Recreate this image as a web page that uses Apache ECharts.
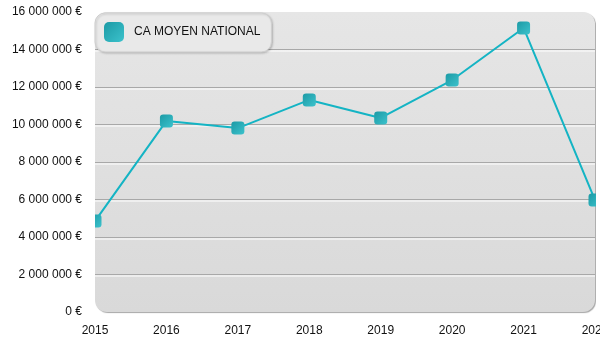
<!DOCTYPE html>
<html>
<head>
<meta charset="utf-8">
<script src="https://cdn.jsdelivr.net/npm/echarts@6/dist/echarts.min.js"></script>
<style>html,body{margin:0;padding:0;background:#fff;}#c{width:600px;height:350px;}</style>
</head>
<body>
<div id="c"></div>
<script>
var categories = ['2015','2016','2017','2018','2019','2020','2021','2022'];
var caMoyen = [4850000, 10190000, 9810000, 11310000, 10350000, 12370000, 15150000, 5970000];
var seriesName = 'CA MOYEN NATIONAL';

var chart = echarts.init(document.getElementById('c'), null, {renderer: 'canvas'});
var markerGrad = new echarts.graphic.LinearGradient(0, 0, 1, 1, [
  {offset: 0, color: '#1c9aa5'},
  {offset: 1, color: '#3cc2cc'}
]);
var G = '#a8a8a8', T = 'rgba(0,0,0,0)';
chart.setOption({
  animation: false,
  backgroundColor: '#ffffff',
  textStyle: {fontFamily: 'Liberation Sans, Arial, sans-serif'},
  graphic: [{
    type: 'rect',
    z: -10,
    left: 95, top: 12,
    shape: {width: 500, height: 300, r: 12},
    style: {
      fill: new echarts.graphic.LinearGradient(0, 0, 0, 1, [
        {offset: 0, color: '#e6e6e6'},
        {offset: 1, color: '#d9d9d9'}
      ]),
      shadowColor: 'rgba(0,0,0,0.35)',
      shadowOffsetX: 1, shadowOffsetY: 1, shadowBlur: 1
    }
  }, {
    type: 'rect',
    z: 50,
    left: 84, top: 0,
    shape: {width: 11, height: 312},
    style: {fill: '#ffffff'}
  }, {
    type: 'rect',
    z: 50,
    left: 596, top: 0,
    shape: {width: 4, height: 313},
    style: {fill: '#ffffff'}
  }],
  grid: {left: 95, right: 5, top: 12, bottom: 38, containLabel: false, outerBoundsMode: 'none'},
  legend: {
    z: 60,
    left: 95, top: 13,
    padding: [9, 11, 10, 9],
    backgroundColor: '#e9e9e9',
    borderColor: '#cfcfcf',
    borderWidth: 1,
    borderRadius: 10,
    shadowColor: 'rgba(0,0,0,0.18)',
    shadowBlur: 2, shadowOffsetX: 1, shadowOffsetY: 1,
    itemWidth: 20, itemHeight: 20,
    textStyle: {color: '#111', fontSize: 12, padding: [0, 0, 0, 5]},
    data: [{name: seriesName, icon: 'roundRect'}]
  },
  xAxis: {
    type: 'category',
    data: categories,
    boundaryGap: false,
    axisLine: {show: false},
    axisTick: {show: false},
    axisLabel: {color: '#111', fontSize: 12, margin: 13}
  },
  yAxis: {
    type: 'value',
    min: 0, max: 16000000, interval: 2000000,
    axisLine: {show: false},
    axisTick: {show: false},
    axisLabel: {
      color: '#111', fontSize: 12, margin: 13,
      formatter: function (v) {
        return String(v).replace(/\B(?=(\d{3})+(?!\d))/g, ' ') + ' €';
      }
    },
    splitLine: {
      lineStyle: {color: [T, G, G, G, G, G, G, G, T], width: 1, shadowColor: '#ffffff', shadowOffsetY: 1.5, shadowBlur: 0}
    }
  },
  series: [{
    name: seriesName,
    type: 'line',
    data: caMoyen,
    clip: true,
    symbol: 'roundRect',
    symbolSize: 13,
    showAllSymbol: true,
    lineStyle: {color: '#14b4c4', width: 2},
    itemStyle: {color: markerGrad, borderWidth: 0}
  }]
});
</script>
</body>
</html>
